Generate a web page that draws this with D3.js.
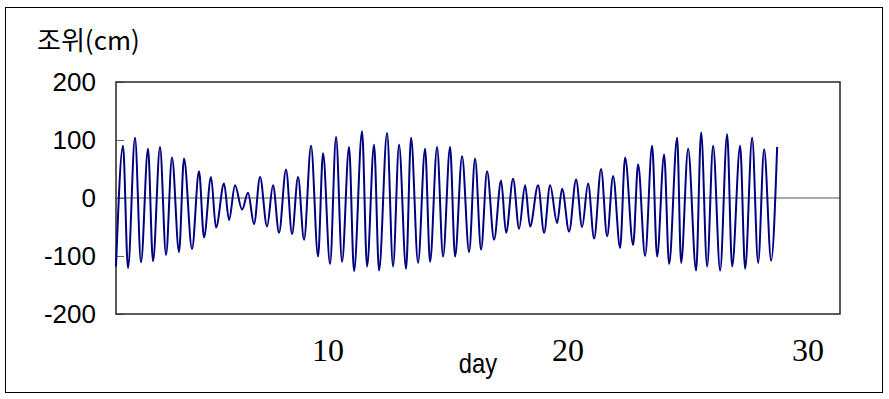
<!DOCTYPE html>
<html>
<head>
<meta charset="utf-8">
<script src="https://cdn.jsdelivr.net/npm/d3@7/dist/d3.min.js"></script>
<style>
  body { margin: 0; background: #fff; }
  svg text { font-family: "Liberation Sans", Arial, sans-serif; fill: #000; }
</style>
</head>
<body>
<div id="chart"></div>
<script>
/** DATA */
// high and low waters: hours since the first record, level in cm
const hours = [
  0, 7, 12, 19, 25, 32, 37, 44, 50, 56, 63, 68, 76, 83, 88, 95, 100, 108, 113, 119,
  126, 132, 138, 144, 151, 157, 163, 170, 176, 182, 188, 195, 202, 207, 214, 220, 226, 233, 238, 246,
  251, 258, 263, 271, 277, 283, 290, 295, 302, 309, 314, 321, 327, 334, 339, 346, 353, 359, 365, 371,
  378, 385, 390, 397, 403, 409, 414, 422, 428, 434, 441, 446, 453, 460, 466, 472, 478, 485, 491, 497,
  504, 509, 517, 522, 529, 536, 541, 548, 553, 561, 565, 572, 580, 585, 591, 597, 604, 611, 616, 624,
  629, 636, 642, 648, 655, 661
];
const levels = [
  -118, 90, -121, 104, -111, 85, -109, 88, -98, 70, -93, 68, -88, 46, -68, 36, -51, 25, -38, 22,
  -20, 9, -45, 36, -49, 22, -60, 49, -62, 36, -72, 90, -101, 77, -114, 105, -110, 88, -126, 115,
  -118, 92, -125, 112, -118, 92, -122, 104, -112, 85, -110, 88, -101, 88, -101, 72, -93, 68, -89, 46,
  -72, 30, -60, 33, -53, 22, -49, 22, -60, 22, -43, 16, -58, 32, -50, 25, -70, 50, -66, 38,
  -86, 70, -81, 58, -100, 90, -101, 75, -114, 104, -112, 85, -125, 113, -118, 90, -125, 110, -118, 90,
  -122, 104, -112, 84, -108, 88
];
const startDay = 1.17;          // day number of the first record
const dayDomain = [1.17, 31.33];
const yTicks = [-200, -100, 0, 100, 200];
const dayLabels = [10, 20, 30];

const data = hours.map((h, i) => ({ day: startDay + h / 24, level: levels[i] }));

/** CONSTANTS */
const width = 889,
  height = 399,
  margin = { top: 82, bottom: 85, left: 116, right: 49 };

/** SCALES */
const xScale = d3.scaleLinear()
  .domain(dayDomain)
  .range([margin.left, width - margin.right]);

const yScale = d3.scaleLinear()
  .domain([-200, 200])
  .range([height - margin.bottom, margin.top]);

/** DRAWING ELEMENTS */
const svg = d3.select("#chart")
  .append("svg")
  .attr("width", width)
  .attr("height", height);

// outer chart border
svg.append("rect")
  .attr("x", 5.5)
  .attr("y", 7.5)
  .attr("width", 877)
  .attr("height", 385)
  .attr("fill", "none")
  .attr("stroke", "#000")
  .attr("stroke-width", 1);

// y axis with short inward ticks
const yAxis = d3.axisLeft(yScale)
  .tickValues(yTicks)
  .tickFormat(d => String(d))
  .tickSizeInner(-8)
  .tickSizeOuter(0)
  .tickPadding(20);

svg.append("g")
  .attr("transform", `translate(${margin.left}, 0)`)
  .call(yAxis)
  .call(g => g.select(".domain").remove())
  .call(g => g.selectAll(".tick line").attr("stroke", "#666"))
  .call(g => g.selectAll(".tick text")
    .attr("font-size", 26)
    .attr("font-family", "Liberation Sans, Arial, sans-serif"));

// zero line
svg.append("line")
  .attr("x1", xScale.range()[0])
  .attr("x2", xScale.range()[1])
  .attr("y1", yScale(0))
  .attr("y2", yScale(0))
  .attr("stroke", "#555")
  .attr("stroke-width", 1.2);

// plot frame
svg.append("rect")
  .attr("x", xScale.range()[0])
  .attr("y", yScale(200))
  .attr("width", xScale.range()[1] - xScale.range()[0])
  .attr("height", yScale(-200) - yScale(200))
  .attr("fill", "none")
  .attr("stroke", "#333")
  .attr("stroke-width", 1.6);

// tide curve
const line = d3.line()
  .x(d => xScale(d.day))
  .y(d => yScale(d.level))
  .curve(d3.curveMonotoneX);

svg.append("path")
  .datum(data)
  .attr("d", line)
  .attr("fill", "none")
  .attr("stroke", "#000080")
  .attr("stroke-width", 2);

// day labels (serif, no tick marks)
svg.selectAll("text.day")
  .data(dayLabels)
  .join("text")
  .attr("class", "day")
  .attr("x", d => xScale(d))
  .attr("y", 361)
  .attr("text-anchor", "middle")
  .style("font-family", "'Liberation Serif', 'Times New Roman', serif")
  .attr("font-size", 32)
  .text(d => d);

// axis titles
svg.append("text")
  .attr("transform", "translate(478, 373) scale(0.85, 1)")
  .attr("text-anchor", "middle")
  .attr("font-size", 28)
  .text("day");

svg.append("text")
  .attr("x", 37)
  .attr("y", 50)
  .attr("font-size", 26)
  .style("font-family", "'Noto Sans CJK KR', 'Liberation Sans', sans-serif")
  .text("조위(cm)");
</script>
</body>
</html>
